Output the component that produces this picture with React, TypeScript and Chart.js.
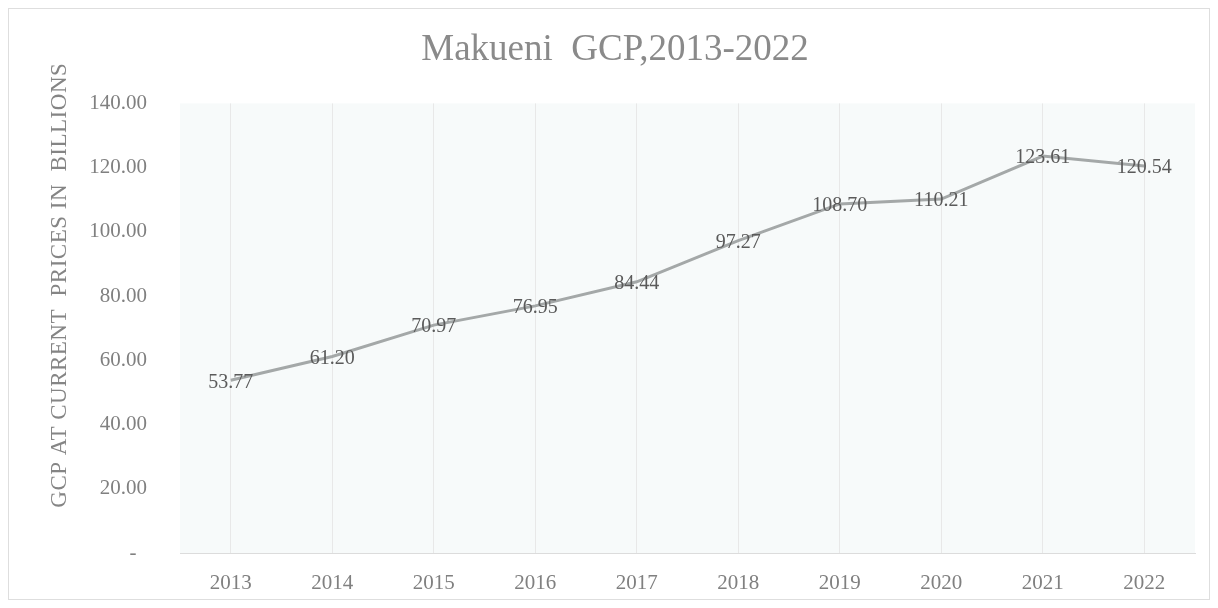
import React, { useEffect, useRef } from "react";
import { Chart, registerables } from "chart.js";

Chart.register(...registerables);

const years = ["2013", "2014", "2015", "2016", "2017", "2018", "2019", "2020", "2021", "2022"];
const gcpValues = [53.77, 61.2, 70.97, 76.95, 84.44, 97.27, 108.7, 110.21, 123.61, 120.54];
const chartTitle = "Makueni  GCP,2013-2022";
const yAxisTitle = "GCP AT CURRENT  PRICES IN  BILLIONS";

const SERIF = "'Liberation Serif', 'Times New Roman', serif";

const plotBg = {
  id: "plotBg",
  beforeDraw(chart: any) {
    const { ctx, chartArea } = chart;
    if (!chartArea) return;
    ctx.save();
    ctx.fillStyle = "#f7fafa";
    ctx.fillRect(chartArea.left, chartArea.top, chartArea.right - chartArea.left, chartArea.bottom - chartArea.top);
    ctx.restore();
  },
};

const yTitle = {
  id: "yTitle",
  afterDraw(chart: any) {
    const { ctx, chartArea } = chart;
    ctx.save();
    ctx.font = `23px ${SERIF}`;
    ctx.fillStyle = "#858585";
    ctx.textAlign = "center";
    ctx.textBaseline = "middle";
    (ctx as any).letterSpacing = "0.5px";
    ctx.translate(chartArea.left - 120, (chartArea.top + chartArea.bottom) / 2 - 43);
    ctx.rotate(-Math.PI / 2);
    ctx.fillText(yAxisTitle, 0, 0);
    ctx.restore();
  },
};

const dataLabels = {
  id: "dataLabels",
  afterDatasetsDraw(chart: any) {
    const { ctx } = chart;
    const meta = chart.getDatasetMeta(0);
    const ds = chart.data.datasets[0];
    ctx.save();
    ctx.font = `20px ${SERIF}`;
    ctx.fillStyle = "#5a5a5a";
    ctx.textAlign = "center";
    ctx.textBaseline = "middle";
    meta.data.forEach((pt: any, i: number) => {
      const v = ds.data[i] as number;
      ctx.fillText(v.toFixed(2), pt.x, pt.y + 2);
    });
    ctx.restore();
  },
};

export default function App() {
  const ref = useRef<HTMLCanvasElement>(null);
  useEffect(() => {
    if (!ref.current) return;
    const chart = new Chart(ref.current, {
      type: "line",
      data: {
        labels: years,
        datasets: [
          {
            data: gcpValues,
            borderColor: "#a4a8a8",
            borderWidth: 3,
            pointRadius: 0,
            tension: 0,
          },
        ],
      },
      options: {
        animation: false,
        responsive: false,
        layout: { padding: { left: 26, right: 14, top: 0, bottom: 0 } },
        plugins: {
          legend: { display: false },
          tooltip: { enabled: false },
          title: {
            display: true,
            text: chartTitle,
            color: "#8a8a8a",
            font: { family: SERIF, size: 37, weight: "normal" },
            padding: { top: 19, bottom: 31 },
          },
        },
        scales: {
          x: {
            offset: true,
            grid: { display: true, offset: false, color: "#e8e8e8", drawTicks: false },
            border: { display: true, color: "#dcdcdc" },
            ticks: { color: "#808080", font: { family: SERIF, size: 21 }, padding: 18 },
            afterFit(scale: any) {
              scale.height = 46;
            },
          },
          y: {
            min: 0,
            max: 140,
            grid: { display: false, drawTicks: false },
            border: { display: false },
            ticks: {
              stepSize: 20,
              color: "#808080",
              font: { family: SERIF, size: 21 },
              padding: 33,
              callback: (v: any) => (Number(v) === 0 ? "-  " : Number(v).toFixed(2)),
            },
            afterFit(scale: any) {
              scale.width = 145;
            },
          },
        },
      },
      plugins: [plotBg, dataLabels, yTitle],
    });
    return () => chart.destroy();
  }, []);
  return (
    <div style={{ width: 1200, height: 590, border: "1px solid #dedede", background: "#fff" }}>
      <canvas ref={ref} width={1200} height={590} />
    </div>
  );
}
